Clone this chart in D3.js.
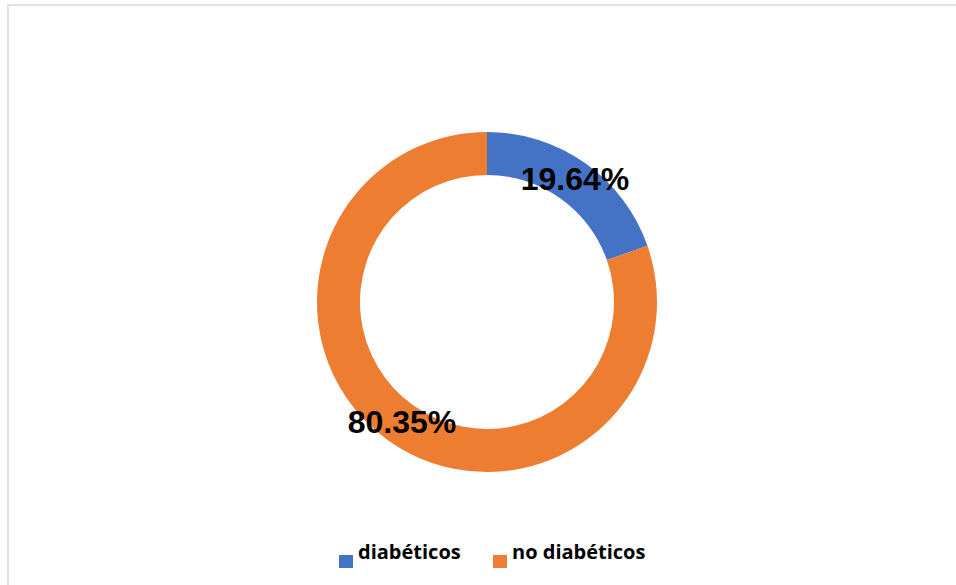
<!DOCTYPE html>
<html>
<head>
<meta charset="utf-8">
<script src="https://cdn.jsdelivr.net/npm/d3@7"></script>
<style>
  body { margin: 0; background: #fff; }
  svg { display: block; }
</style>
</head>
<body>
<div id="chart"></div>
<script>
const categories = ["diabéticos", "no diabéticos"];
const values = [19.64, 80.35];
const valueLabels = ["19.64%", "80.35%"];
const colors = ["#4472c4", "#ed7d31"];

const width = 956, height = 585;
const cx = 487, cy = 302;
const outerR = 170, innerR = 127;

const svg = d3.select('#chart').append('svg')
  .attr('width', width).attr('height', height);

// chart frame
svg.append('rect')
  .attr('x', 8).attr('y', 5).attr('width', width + 10).attr('height', height + 10)
  .attr('fill', '#fff').attr('stroke', '#e3e3e3').attr('stroke-width', 2);

const data = categories.map((c, i) => ({ name: c, value: values[i], label: valueLabels[i], color: colors[i] }));

const pie = d3.pie().sort(null).value(d => d.value);
const arc = d3.arc().innerRadius(innerR).outerRadius(outerR);

const g = svg.append('g').attr('transform', `translate(${cx},${cy})`);
const arcs = pie(data);

g.selectAll('path')
  .data(arcs)
  .join('path')
  .attr('d', arc)
  .attr('fill', d => d.data.color);

// value labels, placed roughly where the original sits them
const labelPos = [
  { x: 575 - cx, y: 190 - cy },
  { x: 402 - cx, y: 433 - cy }
];
g.selectAll('text.val')
  .data(arcs)
  .join('text')
  .attr('class', 'val')
  .attr('x', (d, i) => labelPos[i].x)
  .attr('y', (d, i) => labelPos[i].y)
  .attr('text-anchor', 'middle')
  .attr('font-family', 'Liberation Sans, Arial, sans-serif')
  .attr('font-weight', 'bold')
  .attr('font-size', '32px')
  .attr('fill', '#000')
  .text(d => d.data.label);

// legend
const legend = svg.append('g');
const legendX = [339, 493];
data.forEach((d, i) => {
  legend.append('rect')
    .attr('x', legendX[i]).attr('y', 555)
    .attr('width', 14).attr('height', 13)
    .attr('fill', d.color);
  legend.append('text')
    .attr('x', legendX[i] + 19).attr('y', 559)
    .attr('font-family', 'Open Sans, Noto Sans, sans-serif')
    .attr('font-weight', 'bold')
    .attr('font-size', '20px')
    .attr('fill', '#000')
    .text(d.name);
});
</script>
</body>
</html>
